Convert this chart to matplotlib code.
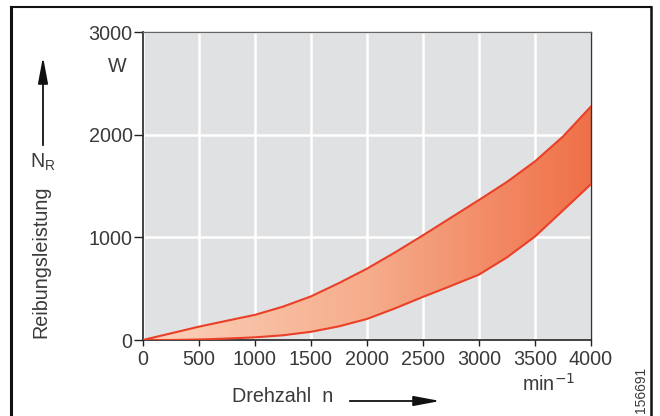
import numpy as np
import matplotlib
matplotlib.use("Agg")
import matplotlib.pyplot as plt
from matplotlib.patches import FancyArrowPatch
from matplotlib.lines import Line2D
from matplotlib.colors import LinearSegmentedColormap

plt.rcParams['font.family'] = ['Liberation Sans', 'DejaVu Sans']

speed = [0, 250, 500, 750, 1000, 1250, 1500, 1750, 2000, 2250, 2500, 2750,
         3000, 3250, 3500, 3750, 4000]
upper = [0, 65, 130, 188, 245, 325, 425, 555, 695, 853, 1020, 1192,
         1364, 1540, 1740, 1982, 2275]
lower = [0, 0, 5, 14, 26, 46, 80, 133, 205, 308, 420, 527,
         637, 805, 1008, 1262, 1518]
xticks = [0, 500, 1000, 1500, 2000, 2500, 3000, 3500, 4000]
yticks = [0, 1000, 2000, 3000]

txt = '#3a3a3a'
line_c = '#ea4027'
fs = 14.2

fig = plt.figure(figsize=(6.6, 4.16), dpi=100)
ax = fig.add_axes([143/660, 76/416, 448/660, 308/416])
ax.set_facecolor('#e0e1e3')
ax.set_xlim(0, 4000)
ax.set_ylim(0, 3000)
ax.set_xticks(xticks)
ax.set_yticks(yticks)
ax.set_xticklabels([str(v) for v in xticks])
ax.set_yticklabels([str(v) for v in yticks])
ax.grid(True, color='white', lw=1.8)
ax.set_axisbelow(True)
ax.tick_params(axis='x', direction='out', length=4.5, width=1, colors='#222222',
               labelcolor=txt, labelsize=fs, pad=3)
ax.tick_params(axis='y', direction='out', length=6.5, width=1, colors='#222222',
               labelcolor=txt, labelsize=fs, pad=1)
for s in ['left', 'bottom']:
    ax.spines[s].set_color('#222222'); ax.spines[s].set_linewidth(1.2)
ax.spines['top'].set_color('#666666'); ax.spines['top'].set_linewidth(1.0)
ax.spines['right'].set_color('#333333'); ax.spines['right'].set_linewidth(1.0)

# gradient fill between curves
poly = ax.fill_between(speed, lower, upper, color='none', lw=0)
grad = np.linspace(0, 1, 256).reshape(1, -1)
cmap = LinearSegmentedColormap.from_list('g', ['#fbd2bc', '#f6ad8c', '#ef7048'])
im = ax.imshow(grad, extent=[0, 4000, 0, 3000], aspect='auto', cmap=cmap,
               origin='lower', zorder=2)
im.set_clip_path(poly.get_paths()[0], transform=ax.transData)
ax.plot(speed, upper, color=line_c, lw=1.5, zorder=3, solid_joinstyle='round')
ax.plot(speed, lower, color=line_c, lw=1.5, zorder=3, solid_joinstyle='round')

# units
fig.text(117/660, 1 - 66/416, 'W', ha='center', va='center', fontsize=fs, color=txt)
fig.text(549/660, 1 - 384/416, r'min$^{-1}$', ha='center', va='center', fontsize=fs, color=txt)

# x label and arrow
fig.text(232/660, 1 - 397/416, 'Drehzahl  n', ha='left', va='center', fontsize=fs, color=txt)
fig.add_artist(FancyArrowPatch((347/660, 1 - 401/416), (443/660, 1 - 401/416),
                               transform=fig.transFigure, arrowstyle='-|>,head_length=16,head_width=3',
                               color='#111111', lw=1.3, mutation_scale=1))
# y label and arrow
fig.text(41/660, 1 - 262/416, 'Reibungsleistung', ha='center', va='center', rotation=90,
         fontsize=fs, color=txt)
fig.text(43/660, 1 - 162/416, r'N$_\mathregular{R}$', ha='center', va='center', fontsize=fs, color=txt)
fig.add_artist(FancyArrowPatch((43/660, 1 - 148/416), (43/660, 1 - 54/416),
                               transform=fig.transFigure, arrowstyle='-|>,head_length=16,head_width=3',
                               color='#111111', lw=1.3, mutation_scale=1))

fig.text(641/660, 1 - 390/416, '156691', ha='center', va='center', rotation=90,
         fontsize=10, color=txt)

# outer frame
fig.add_artist(Line2D([11/660, 11/660], [0, 1 - 7/416], transform=fig.transFigure, color='#111111', lw=2.2))
fig.add_artist(Line2D([11/660, 651/660], [1 - 7/416, 1 - 7/416], transform=fig.transFigure, color='#111111', lw=1.5))
fig.add_artist(Line2D([651/660, 651/660], [0, 1 - 7/416], transform=fig.transFigure, color='#111111', lw=1.8))

fig.savefig('out.png', dpi=100)
